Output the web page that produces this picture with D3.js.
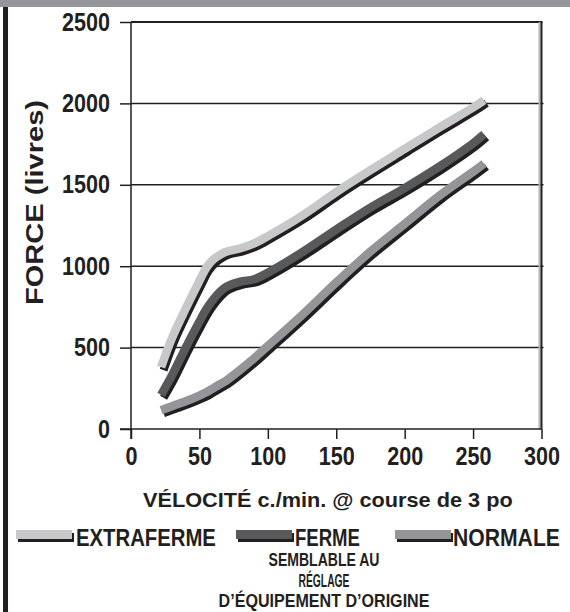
<!DOCTYPE html>
<html><head><meta charset="utf-8">
<script src="https://cdn.jsdelivr.net/npm/d3@7"></script>
<style>
html,body{margin:0;padding:0;background:#fff;}
svg{display:block;}
</style></head><body>
<svg id="chart" width="570" height="612"></svg>
<script>
// ---- data ----
const velocity   = [22, 30, 40, 50, 55, 60, 65, 70, 80, 90, 100, 125, 150, 175, 200, 225, 250, 258];
const extraferme = [380, 560, 740, 910, 990, 1040, 1070, 1090, 1110, 1140, 1185, 1310, 1455, 1590, 1720, 1850, 1975, 2020];
const ferme      = [210, 330, 500, 660, 735, 795, 843, 875, 905, 920, 960, 1085, 1225, 1360, 1480, 1610, 1755, 1810];
const normale    = [115, 140, 170, 205, 225, 250, 275, 300, 365, 435, 510, 700, 900, 1090, 1260, 1430, 1580, 1630];
const xTicks = [0, 50, 100, 150, 200, 250, 300];
const yTicks = [0, 500, 1000, 1500, 2000, 2500];
const gridValues = [500, 1000, 1500, 2000];
const seriesNames = ["EXTRAFERME", "FERME", "NORMALE"];
const seriesColors = ["#c6c8ca", "#58595b", "#939598"];
const xTitle = "VÉLOCITÉ  c./min. @ course de 3 po";
const yTitle = "FORCE (livres)";
const noteLines = ["SEMBLABLE AU", "RÉGLAGE", "D’ÉQUIPEMENT D’ORIGINE"];

const INK = "#231f20";
const FONT = "'Liberation Sans',Arial,Helvetica,sans-serif";

const svg = d3.select("#chart");
const x = d3.scaleLinear().domain([0, 300]).range([131, 541.5]);
const y = d3.scaleLinear().domain([0, 2500]).range([429, 22]);

// horizontally scale a text so its width equals w (keeps real text)
function fitText(t, x0, y0, w, rotate) {
  t.attr("x", 0).attr("y", 0);
  const n = t.node().getComputedTextLength();
  const sx = w / n;
  t.attr("transform", `translate(${x0},${y0})${rotate ? ` rotate(${rotate})` : ""} scale(${sx},1)`);
}

// top band and left bar
svg.append("rect").attr("x", 0).attr("y", 0).attr("width", 570).attr("height", 7).attr("fill", "#939598");
svg.append("rect").attr("x", 3).attr("y", 7).attr("width", 5).attr("height", 605).attr("fill", INK);

// gridlines
svg.append("g").selectAll("line").data(gridValues).join("line")
  .attr("x1", x(0)).attr("x2", x(300) + 2)
  .attr("y1", d => y(d)).attr("y2", d => y(d))
  .attr("stroke", INK).attr("stroke-width", 1.5);

// frame top & right
svg.append("line").attr("x1", x(0)).attr("x2", x(300) + 1).attr("y1", y(2500)).attr("y2", y(2500))
  .attr("stroke", INK).attr("stroke-width", 2);
svg.append("line").attr("x1", x(300) - 2).attr("x2", x(300) - 2).attr("y1", y(2500)).attr("y2", y(0))
  .attr("stroke", "#b4b5b7").attr("stroke-width", 2);
svg.append("line").attr("x1", x(300)).attr("x2", x(300)).attr("y1", y(2500)).attr("y2", y(0))
  .attr("stroke", INK).attr("stroke-width", 2);

// axes
const xAxis = svg.append("g").attr("transform", `translate(0,${y(0)})`)
  .call(d3.axisBottom(x).tickValues(xTicks).tickSize(10).tickPadding(8).tickFormat(d3.format("d")));
const yAxis = svg.append("g").attr("transform", `translate(${x(0)},0)`)
  .call(d3.axisLeft(y).tickValues(yTicks).tickSize(11).tickPadding(10).tickFormat(d3.format("d")));
[xAxis, yAxis].forEach(g => {
  g.select(".domain").remove();
  g.selectAll(".tick line").attr("stroke", INK).attr("stroke-width", 1.5);
  g.selectAll(".tick text").attr("fill", INK).style("font-family", FONT)
    .style("font-weight", "bold").style("font-size", "25px")
    .each(function(d) {
      const s = String(d);
      d3.select(this).attr("textLength", s.length * 12).attr("lengthAdjust", "spacingAndGlyphs");
    });
});
// axis lines
svg.append("line").attr("x1", x(0) - 11).attr("x2", x(300)).attr("y1", y(0)).attr("y2", y(0))
  .attr("stroke", INK).attr("stroke-width", 1.5);
svg.append("line").attr("x1", x(0)).attr("x2", x(0)).attr("y1", y(2500)).attr("y2", y(0) + 10)
  .attr("stroke", INK).attr("stroke-width", 1.5);

// series
const series = [extraferme, ferme, normale].map((vals, i) => ({
  name: seriesNames[i], color: seriesColors[i],
  pts: velocity.map((v, j) => [v, vals[j]])
}));
const line = d3.line().x(d => x(d[0])).y(d => y(d[1])).curve(d3.curveCatmullRom.alpha(0.5));
const gS = svg.append("g");
series.forEach(s => {
  gS.append("path").attr("d", line(s.pts)).attr("fill", "none")
    .attr("stroke", INK).attr("stroke-width", 8).attr("stroke-linecap", "butt")
    .attr("stroke-linejoin", "round").attr("transform", "translate(2.5,3)");
  gS.append("path").attr("d", line(s.pts)).attr("fill", "none")
    .attr("stroke", s.color).attr("stroke-width", 8.5).attr("stroke-linecap", "butt")
    .attr("stroke-linejoin", "round");
});

// axis titles
const xt = svg.append("text").text(xTitle)
  .attr("fill", INK).style("font-family", FONT).style("font-weight", "bold").style("font-size", "20px");
fitText(xt, 143, 507, 370);
const yt = svg.append("text").text(yTitle).attr("text-anchor", "middle")
  .attr("fill", INK).style("font-family", FONT).style("font-weight", "bold").style("font-size", "23px");
fitText(yt, 43, 202.5, 205, -90);

// legend
const legendX = [16, 236, 395];
const legendTextX = [76, 295, 453];
const legendTextW = [140, 65, 107];
const lg = svg.append("g");
series.forEach((s, i) => {
  lg.append("rect").attr("x", legendX[i] + 2).attr("y", 533).attr("width", 56).attr("height", 9).attr("fill", INK);
  lg.append("rect").attr("x", legendX[i]).attr("y", 530).attr("width", 56).attr("height", 9).attr("fill", s.color);
  const t = lg.append("text").text(s.name)
    .attr("fill", INK).style("font-family", FONT).style("font-weight", "bold").style("font-size", "24px");
  fitText(t, legendTextX[i], 546, legendTextW[i]);
});
const noteY = [566, 587, 607];
const noteW = [111, 51, 211];
noteLines.forEach((t, i) => {
  const tx = lg.append("text").attr("text-anchor", "middle").text(t)
    .attr("fill", INK).style("font-family", FONT).style("font-weight", "bold").style("font-size", "18px");
  fitText(tx, 324, noteY[i], noteW[i]);
});
</script>
</body></html>
